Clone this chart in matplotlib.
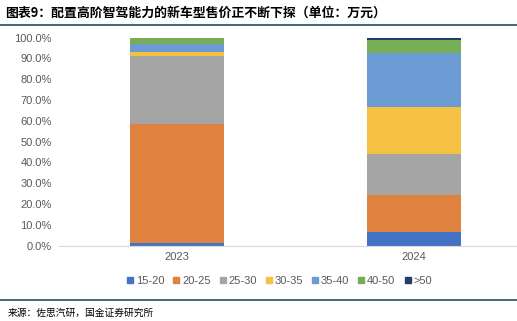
import numpy as np
import matplotlib.pyplot as plt
from matplotlib.lines import Line2D

plt.rcParams['font.family'] = ['Noto Sans CJK SC', 'DejaVu Sans']

# 数据
anos = ['2023', '2024']
faixas = ['15-20', '20-25', '25-30', '30-35', '35-40', '40-50', '>50']
valores = {
    '15-20': [1.0, 6.5],
    '20-25': [57.4, 17.9],
    '25-30': [32.8, 19.4],
    '30-35': [1.7, 22.8],
    '35-40': [4.0, 25.9],
    '40-50': [3.1, 6.4],
    '>50':   [0.0, 1.1],
}
cores = ['#4472C4', '#E0823F', '#A5A5A5', '#F4C142', '#6B9BD2', '#76AD55', '#243F66']

fig = plt.figure(figsize=(5.17, 3.21), dpi=100)
ax = fig.add_axes([58.5 / 517, 1 - 245.5 / 321, 1 - 58.5 / 517, 208 / 321])

x = np.arange(len(anos))
base = np.zeros(len(anos))
for faixa, cor in zip(faixas, cores):
    v = np.array(valores[faixa])
    ax.bar(x, v, 0.4, bottom=base, color=cor, label=faixa)
    base += v

ax.set_ylim(0, 100)
ax.set_xlim(-0.5, (517 - 58.5) / 237 - 0.5)
ax.set_yticks(np.arange(0, 101, 10))
ax.set_yticklabels([f'{t:.1f}%' for t in range(0, 101, 10)], fontsize=8, color='#595959',
                   family=['Liberation Sans'])
ax.set_xticks(x)
ax.set_xticklabels(anos, fontsize=8, color='#595959', family=['Liberation Sans'])
ax.tick_params(axis='both', length=0, pad=5)
for s in ['top', 'right', 'left']:
    ax.spines[s].set_visible(False)
ax.spines['bottom'].set_color('#D9D9D9')
ax.spines['bottom'].set_linewidth(0.8)

# legenda
handles = [Line2D([], [], marker='s', linestyle='', markersize=4, color=c) for c in cores]
fig.legend(handles, faixas, loc='center', bbox_to_anchor=(279 / 517, 1 - 281 / 321), ncol=7,
           frameon=False, handlelength=0.7, handletextpad=0.15, columnspacing=0.75,
           labelcolor='#595959', prop={'family': ['Liberation Sans'], 'size': 8})

# título e fonte
fig.text(5 / 517, 1 - 13 / 321, '图表9：配置高阶智驾能力的新车型售价正不断下探（单位：万元）',
         fontsize=9.3, fontweight='bold', style='italic', va='center', ha='left')
fig.add_artist(Line2D([0, 1], [1 - 25 / 321] * 2, color='#1F4E5F', linewidth=1.2))
fig.add_artist(Line2D([0, 1], [1 - 300 / 321] * 2, color='#1F4E5F', linewidth=1.2))
fig.text(8 / 517, 1 - 312.5 / 321, '来源：佐思汽研，国金证券研究所', fontsize=7, va='center', ha='left')

fig.savefig('out.png', dpi=100)
